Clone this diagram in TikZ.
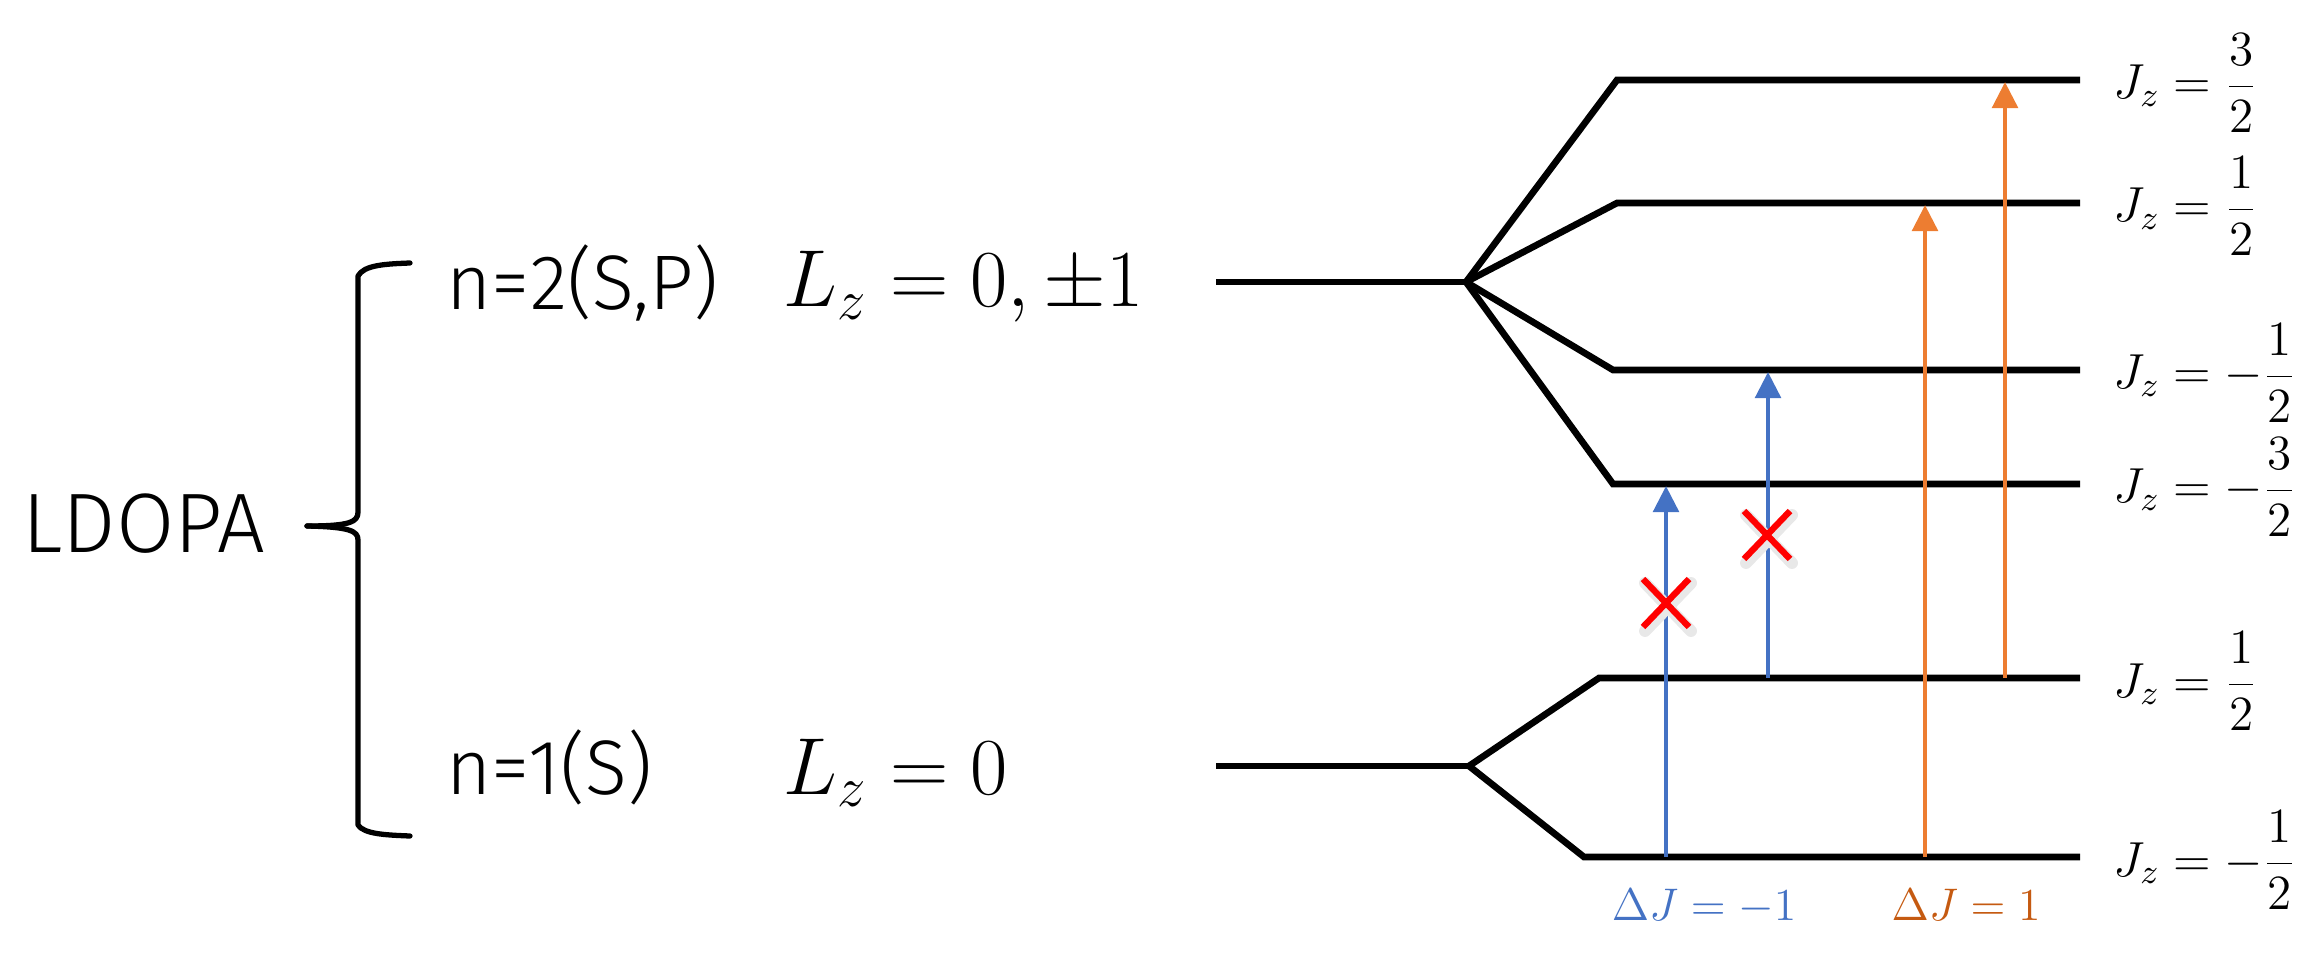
\RequirePackage{fix-cm}
\documentclass[tikz,border=0pt]{standalone}
\usepackage{fontspec}
\newfontfamily\lsans{Fira Sans Light}
\usetikzlibrary{arrows.meta}
\definecolor{myblue}{HTML}{4472C4}
\definecolor{myorange}{HTML}{ED7D31}
\definecolor{labelorange}{HTML}{C55A11}
\definecolor{xred}{HTML}{FF0000}
\begin{document}
\begin{tikzpicture}[x=0.01cm,y=-0.01cm,
  lvl/.style={line width=1.9pt,line join=miter},
  bracestyle/.style={line width=1.5pt,line cap=round,line join=round},
  trans/.style={line width=1.3pt,-{Triangle[length=7.4pt,width=7.2pt]}},
  xmark/.style={xred,line width=1.8pt},
  xshadow/.style={black!9,line width=3.4pt,line cap=round},
  bigsans/.style={inner sep=0pt,font=\lsans\fontsize{24}{28}\selectfont},
  midsans/.style={inner sep=0pt,anchor=base west,font=\lsans\fontsize{22}{26}\selectfont},
  bigmath/.style={inner sep=0pt,anchor=base west,font=\fontsize{23}{28}\selectfont},
  jlab/.style={inner sep=0pt,anchor=base west,font=\fontsize{14}{17}\selectfont},
  dlab/.style={inner sep=0pt,anchor=base,font=\fontsize{13}{16}\selectfont}]
\useasboundingbox (0,0) rectangle (2321,961);

% left labels
\node[bigsans,anchor=base west] (ldopa) at (22,553) {LDOPA};
\node[midsans] (n2) at (446,310) {n=2(S,P)};
\node[bigmath] (lz2) at (783,307) {$L_z = 0,\pm 1$};
\node[midsans] (n1) at (446,794) {n=1(S)};
\node[bigmath] (lz1) at (783,794) {$L_z = 0$};

% brace
\coordinate (tip) at (307,526);
\draw[bracestyle] (410,263) .. controls (385,264) and (364,265) .. (358,276) -- (358,512)
  .. controls (358,522) and (350,526) .. (tip);
\draw[bracestyle] (tip) .. controls (350,527) and (358,531) .. (358,540) -- (358,825)
  .. controls (364,834) and (385,835) .. (410,836);

% upper level
\coordinate (u0) at (1216,282);
\coordinate (us) at (1466,282);
\coordinate (a3s) at (1617,80);   \coordinate (a3e) at (2080,80);
\coordinate (a1s) at (1617,203);  \coordinate (a1e) at (2080,203);
\coordinate (am1s) at (1613,370); \coordinate (am1e) at (2080,370);
\coordinate (am3s) at (1613,484); \coordinate (am3e) at (2080,484);
\draw[lvl] (u0) -- (us);
\draw[lvl] (us) -- (a3s) -- (a3e);
\draw[lvl] (us) -- (a1s) -- (a1e);
\draw[lvl] (us) -- (am1s) -- (am1e);
\draw[lvl] (us) -- (am3s) -- (am3e);

% lower level
\coordinate (l0) at (1216,766);
\coordinate (ls) at (1469,766);
\coordinate (b1s) at (1599,678);  \coordinate (b1e) at (2080,678);
\coordinate (bm1s) at (1584,857); \coordinate (bm1e) at (2080,857);
\draw[lvl] (l0) -- (ls);
\draw[lvl] (ls) -- (b1s) -- (b1e);
\draw[lvl] (ls) -- (bm1s) -- (bm1e);

% transitions
\coordinate (t1a) at (1666,857); \coordinate (t1b) at (1666,486);
\coordinate (t2a) at (1768,678); \coordinate (t2b) at (1768,372);
\coordinate (t3a) at (1925,857); \coordinate (t3b) at (1925,205);
\coordinate (t4a) at (2005,678); \coordinate (t4b) at (2005,82);
\draw[trans,myblue] (t1a) -- (t1b);
\draw[trans,myblue] (t2a) -- (t2b);
\draw[trans,myorange] (t3a) -- (t3b);
\draw[trans,myorange] (t4a) -- (t4b);

% forbidden marks
\coordinate (x1) at (1666,603);
\coordinate (x2) at (1767,535);
\foreach \c in {x1,x2}{
  \draw[xshadow] ([shift={(-21,-20)}]\c) -- ([shift={(25,28)}]\c);
  \draw[xshadow] ([shift={(25,-20)}]\c) -- ([shift={(-21,28)}]\c);
  \draw[xmark] ([shift={(-23,-24)}]\c) -- ([shift={(23,24)}]\c);
  \draw[xmark] ([shift={(23,-24)}]\c) -- ([shift={(-23,24)}]\c);
}

% J labels
\node[jlab] (j3) at (2113,99) {$J_z = \displaystyle\frac{3}{2}$};
\node[jlab] (j1) at (2113,222) {$J_z = \displaystyle\frac{1}{2}$};
\node[jlab] (jm1) at (2113,389) {$J_z = -\displaystyle\frac{1}{2}$};
\node[jlab] (jm3) at (2113,503) {$J_z = -\displaystyle\frac{3}{2}$};
\node[jlab] (jl1) at (2113,697) {$J_z = \displaystyle\frac{1}{2}$};
\node[jlab] (jlm1) at (2113,876) {$J_z = -\displaystyle\frac{1}{2}$};

% delta labels
\node[dlab,text=myblue] (dm) at (1704,920) {$\Delta J = -1$};
\node[dlab,text=labelorange] (dp) at (1966,920) {$\Delta J = 1$};
\end{tikzpicture}
\end{document}
